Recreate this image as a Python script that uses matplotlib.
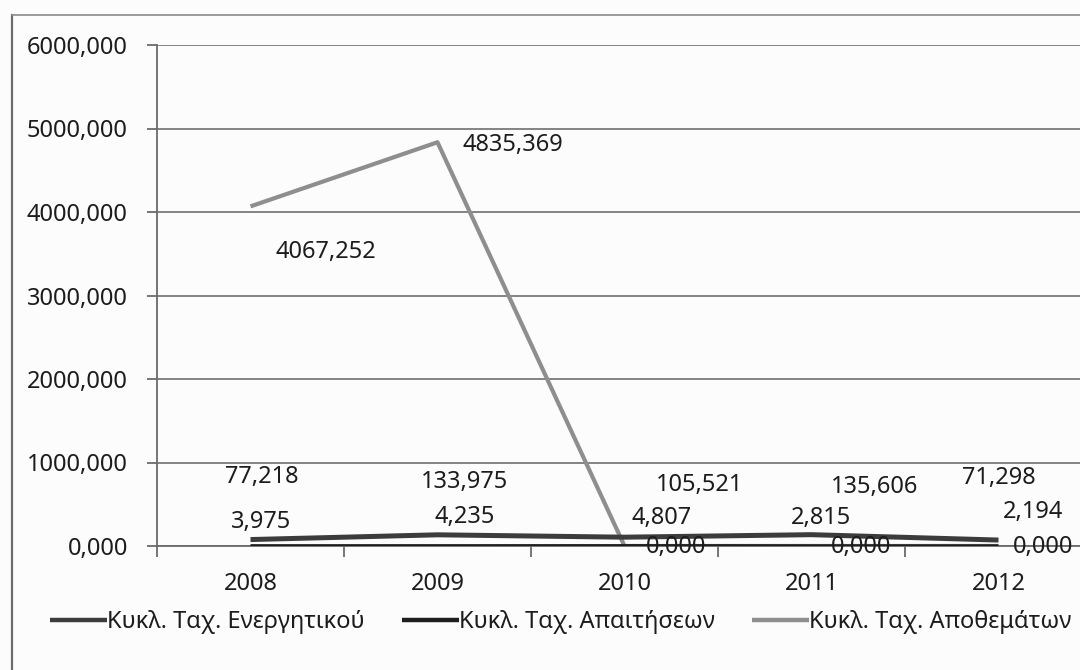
import matplotlib
matplotlib.use("Agg")
import matplotlib.pyplot as plt
from matplotlib.lines import Line2D
from matplotlib.ticker import FuncFormatter, FixedLocator

plt.rcParams['font.family'] = ['Noto Sans', 'DejaVu Sans']

years = ['2008', '2009', '2010', '2011', '2012']
energ = [77.218, 133.975, 105.521, 135.606, 71.298]
apait = [3.975, 4.235, 4.807, 2.815, 2.194]
apoth = [4067.252, 4835.369, 0.000, 0.000, 0.000]

names = ['Κυκλ. Ταχ. Ενεργητικού', 'Κυκλ. Ταχ. Απαιτήσεων', 'Κυκλ. Ταχ. Αποθεμάτων']

# label offsets in pixels (dx, dy) from each point
off_energ = [(11, 63), (27, 53), (75, 52), (63, 48), (0, 62)]
off_apait = [(11, 24), (27, 29), (37, 28), (10, 28), (35, 34)]
off_apoth = [(75, -46), (75, -3), (52, -1), (50, -1), (45, -1)]

W, H = 1080, 670
fig = plt.figure(figsize=(W / 100, H / 100), dpi=100)
fig.patch.set_facecolor('#fbfcfb')

left, right, top, bottom = 157, 1092, 45, 546
ax = fig.add_axes([left / W, (H - bottom) / H, (right - left) / W, (bottom - top) / H])
ax.set_facecolor('none')

def fmt(v):
    return f"{v:.3f}".replace('.', ',')

x = list(range(len(years)))
l1, = ax.plot(x, energ, color='#3c3c3c', lw=3.6, solid_capstyle='butt', zorder=4)
l2, = ax.plot(x, apait, color='#1e1e1e', lw=2.2, solid_capstyle='butt', zorder=5)
l3, = ax.plot(x, apoth, color='#8e8e8e', lw=3.0, solid_capstyle='butt', zorder=3)

fs = 17
tc = '#1c1c1c'
for vals, offs in ((energ, off_energ), (apait, off_apait), (apoth, off_apoth)):
    for i, (v, (dx, dy)) in enumerate(zip(vals, offs)):
        ax.annotate(fmt(v), (i, v), xytext=(dx, dy), textcoords='offset pixels',
                    ha='center', va='center', fontsize=fs, color=tc,
                    zorder=6, annotation_clip=False)

ax.set_xlim(-0.5, len(years) - 0.5)
ax.set_ylim(0, 6000)
ax.set_yticks(range(0, 6001, 1000))
ax.yaxis.set_major_formatter(FuncFormatter(lambda v, p: fmt(v)))
ax.xaxis.set_major_locator(FixedLocator([i - 0.5 for i in range(len(years) + 1)]))
ax.xaxis.set_major_formatter(FuncFormatter(lambda v, p: ''))
ax.xaxis.set_minor_locator(FixedLocator(x))
ax.set_xticklabels(years, minor=True)
ax.tick_params(axis='x', which='minor', length=0, pad=19, labelsize=fs, labelcolor=tc)
ax.tick_params(axis='x', which='major', length=8, width=1.3, color='#6a6a6a', direction='out')
ax.tick_params(axis='y', length=7, width=1.3, color='#6a6a6a', pad=14, labelsize=fs,
               labelcolor=tc)

ax.grid(axis='y', color='#7a7a7a', lw=1.3, zorder=1)
ax.set_axisbelow(True)
for s in ('top', 'right'):
    ax.spines[s].set_visible(False)
for s in ('left', 'bottom'):
    ax.spines[s].set_color('#6a6a6a')
    ax.spines[s].set_linewidth(1.3)

leg = fig.legend([l1, l2, l3], names, loc='center left', bbox_to_anchor=(50 / W, 1 - 622 / H),
                 ncol=3, frameon=False, fontsize=fs, handlelength=2.4, handletextpad=0.0,
                 columnspacing=1.6, borderpad=0, borderaxespad=0)
for t in leg.get_texts():
    t.set_color(tc)
for h in leg.legend_handles:
    h.set_linewidth(3.2)

# chart area border
fig.add_artist(Line2D([12 / W, 12 / W], [0, 1 - 15 / H], transform=fig.transFigure,
                      color='#6c6c6c', lw=1.6))
fig.add_artist(Line2D([12 / W, 1], [1 - 15 / H, 1 - 15 / H], transform=fig.transFigure,
                      color='#8a8a8a', lw=1.2))

fig.savefig('out.png', dpi=100, facecolor=fig.get_facecolor())
